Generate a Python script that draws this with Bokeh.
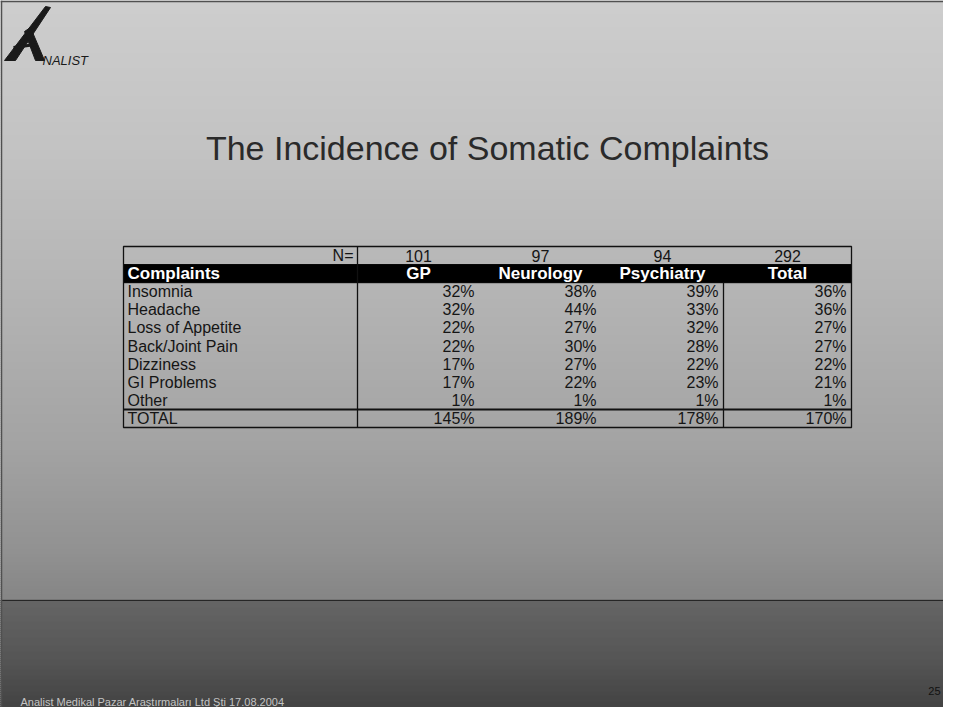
import numpy as np
from bokeh.plotting import figure
from bokeh.models import Range1d
from bokeh.core.properties import value
from bokeh.embed import file_html
from bokeh.resources import INLINE

# ---------------- data ----------------
title = "The Incidence of Somatic Complaints"
complaints = ["Insomnia", "Headache", "Loss of Appetite", "Back/Joint Pain",
              "Dizziness", "GI Problems", "Other"]
groups = ["GP", "Neurology", "Psychiatry", "Total"]
n_values = [101, 97, 94, 292]
gp = [32, 32, 22, 22, 17, 17, 1]
neurology = [38, 44, 27, 30, 27, 22, 1]
psychiatry = [39, 33, 32, 28, 22, 23, 1]
total = [36, 36, 27, 27, 22, 21, 1]
total_row = [145, 189, 178, 170]
footer = "Analist Medikal Pazar Araştırmaları Ltd Şti 17.08.2004"
page_no = "25"

FONT = value("Liberation Sans")
W, H = 943, 707

p = figure(width=W, height=H, x_range=Range1d(0, W), y_range=Range1d(H, 0),
           output_backend="svg", toolbar_location=None,
           x_axis_location=None, y_axis_location=None, min_border=0,
           border_fill_color="#c8c8c8", background_fill_color="#c8c8c8")
p.grid.visible = False
p.outline_line_color = None

# ---------------- background gradient ----------------
stops_y = [0, 150, 300, 450, 550, 599, 600, 660, 707]
stops_g = [206, 195, 180, 163, 146, 134, 102, 86, 68]
ys = np.arange(0, H + 2, 2)
gv = np.interp(ys + 1, stops_y, stops_g)
cols = ["#%02x%02x%02x" % (int(v), int(v), int(v)) for v in gv]
p.quad(left=0, right=W, top=ys - 0.5, bottom=ys + 2.5, fill_color=cols,
       line_color=cols, line_width=1)
p.segment(x0=[0], y0=[600], x1=[W], y1=[600], line_color="#262626", line_width=1.2)
# slide frame
p.segment(x0=[1, 0], y0=[0, 1], x1=[1, W], y1=[H, 1], line_color="#505050", line_width=1.5)

# ---------------- logo ----------------
p.patch(x=[4, 15, 50, 45], y=[60, 60, 7, 6], fill_color="#1a1a1a", line_color="#1a1a1a")
p.patch(x=[24, 30, 44, 35], y=[31, 27, 60, 60], fill_color="#1a1a1a", line_color="#1a1a1a")
p.segment(x0=[13], y0=[47], x1=[35], y1=[44], line_color="#1a1a1a", line_width=3)
p.text(x=[42], y=[60], text=["NALIST"], text_font=FONT, text_font_style="italic",
       text_font_size="13px", text_color="#1a1a1a", text_baseline="alphabetic")

# ---------------- title ----------------
p.text(x=[487], y=[147], text=[title], text_font=FONT, text_font_size="34px",
       text_color="#2a2a2a", text_baseline="alphabetic", text_align="center")

# ---------------- table ----------------
x_edges = [123, 357, 479, 601, 723, 851]
top = 246.0
rh = 18.1
nrows = 3 + len(complaints)
bottom = top + rh * nrows

def ry(i):
    return top + rh * (i + 0.5)

# header band
p.quad(left=[x_edges[0]], right=[x_edges[-1]], top=[top + rh], bottom=[top + 2 * rh],
       fill_color="black", line_color="black")
# borders
p.quad(left=[x_edges[0]], right=[x_edges[-1]], top=[top], bottom=[bottom],
       fill_color=None, line_color="#111111", line_width=1.3)
p.segment(x0=[x_edges[1]], y0=[top], x1=[x_edges[1]], y1=[bottom], line_color="#111111", line_width=1.3)
p.segment(x0=[x_edges[4]], y0=[top + 2 * rh], x1=[x_edges[4]], y1=[bottom], line_color="#111111", line_width=1.3)
p.segment(x0=[x_edges[0]], y0=[top + rh * (nrows - 1)], x1=[x_edges[-1]], y1=[top + rh * (nrows - 1)],
          line_color="#111111", line_width=2)

centers = [(x_edges[i] + x_edges[i + 1]) / 2 for i in range(1, 5)]
rights = [x_edges[i + 1] - 5 for i in range(1, 5)]

body = dict(text_font=FONT, text_font_size="16px", text_color="#151515", text_baseline="middle")

# N row
p.text(x=[x_edges[1] - 4], y=[ry(0)], text=["N="], text_align="right", **body)
p.text(x=centers, y=[ry(0)] * 4, text=[str(v) for v in n_values], text_align="center", **body)

# header row
hdr = dict(text_font=FONT, text_font_size="17px", text_font_style="bold",
           text_color="white", text_baseline="middle")
p.text(x=[x_edges[0] + 4], y=[ry(1)], text=["Complaints"], text_align="left", **hdr)
p.text(x=centers, y=[ry(1)] * 4, text=groups, text_align="center", **hdr)

# body rows
label_ys = [ry(2 + i) for i in range(len(complaints))]
p.text(x=[x_edges[0] + 4] * len(complaints), y=label_ys, text=complaints, text_align="left", **body)
for col, series in enumerate([gp, neurology, psychiatry, total]):
    p.text(x=[rights[col]] * len(series), y=label_ys, text=["%d%%" % v for v in series],
           text_align="right", **body)

# total row
p.text(x=[x_edges[0] + 4], y=[ry(nrows - 1)], text=["TOTAL"], text_align="left", **body)
p.text(x=rights, y=[ry(nrows - 1)] * 4, text=["%d%%" % v for v in total_row], text_align="right", **body)

# ---------------- footer ----------------
p.text(x=[20], y=[701], text=[footer], text_font=FONT, text_font_size="11px",
       text_color="#c4c4c4", text_baseline="middle")
p.text(x=[940], y=[690], text=[page_no], text_font=FONT, text_font_size="11px",
       text_color="#111111", text_baseline="middle", text_align="right")

open("out.html", "w").write(file_html(p, INLINE))
